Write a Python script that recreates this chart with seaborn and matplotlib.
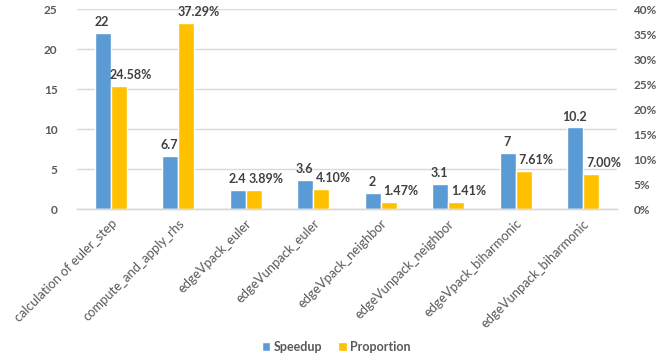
import matplotlib
matplotlib.use("Agg")
import matplotlib.pyplot as plt
import seaborn as sns
import pandas as pd
import numpy as np
from matplotlib.patches import Patch

categories = ["calculation of euler_step", "compute_and_apply_rhs", "edgeVpack_euler",
              "edgeVunpack_euler", "edgeVpack_neighbor", "edgeVunpack_neighbor",
              "edgeVpack_biharmonic", "edgeVunpack_biharmonic"]
speedup = [22, 6.7, 2.4, 3.6, 2, 3.1, 7, 10.2]
speedup_labels = ["22", "6.7", "2.4", "3.6", "2", "3.1", "7", "10.2"]
proportion = [24.58, 37.29, 3.89, 4.10, 1.47, 1.41, 7.61, 7.00]
proportion_labels = ["24.58%", "37.29%", "3.89%", "4.10%", "1.47%", "1.41%", "7.61%", "7.00%"]
left_ticks = [0, 5, 10, 15, 20, 25]
right_ticks = [0, 5, 10, 15, 20, 25, 30, 35, 40]

BLUE = "#5B9BD5"
GOLD = "#FFC000"
TICK_C = "#595959"
LABEL_C = "#404040"
GRID_C = "#D9D9D9"

sns.set_theme(style="white")
plt.rcParams["font.family"] = ["Lato", "DejaVu Sans"]

series = ["Speedup", "Proportion"]
df_left = pd.DataFrame({
    "cat": categories * 2,
    "series": ["Speedup"] * len(categories) + ["Proportion"] * len(categories),
    "value": speedup + [np.nan] * len(categories),
})
df_right = pd.DataFrame({
    "cat": categories * 2,
    "series": ["Speedup"] * len(categories) + ["Proportion"] * len(categories),
    "value": [np.nan] * len(categories) + proportion,
})

fig, ax = plt.subplots(figsize=(6.66, 3.6), dpi=100)
fig.subplots_adjust(left=0.1156, right=0.926, top=0.975, bottom=0.419)
ax2 = ax.twinx()

palette = {"Speedup": BLUE, "Proportion": GOLD}
sns.barplot(data=df_left, x="cat", y="value", hue="series", hue_order=series,
            order=categories, palette=palette, width=0.474, ax=ax, legend=False,
            saturation=1, errorbar=None)
sns.barplot(data=df_right, x="cat", y="value", hue="series", hue_order=series,
            order=categories, palette=palette, width=0.474, ax=ax2, legend=False,
            saturation=1, errorbar=None)

ax.set_ylim(0, 25)
ax2.set_ylim(0, 40)
ax.set_xlim(-0.5, len(categories) - 0.5)
ax.set_yticks(left_ticks)
ax.set_yticklabels([str(t) for t in left_ticks])
ax2.set_yticks(right_ticks)
ax2.set_yticklabels([f"{t}%" for t in right_ticks])

ax.grid(axis="y", color=GRID_C, linewidth=1)
ax.set_axisbelow(True)
for a in (ax, ax2):
    for s in ["top", "left", "right"]:
        a.spines[s].set_visible(False)
    a.spines["bottom"].set_color(GRID_C)
    a.spines["bottom"].set_linewidth(1)
    a.set_xlabel("")
    a.set_ylabel("")
    a.tick_params(axis="both", length=0)

ax.tick_params(axis="y", labelsize=8.5, labelcolor=TICK_C, pad=14)
ax2.tick_params(axis="y", labelsize=8.5, labelcolor=TICK_C, pad=12)
for lab in ax.get_yticklabels() + ax2.get_yticklabels():
    lab.set_fontweight("bold")

ax.set_xticks(range(len(categories)))
ax.set_xticklabels(categories, rotation=45, ha="right", rotation_mode="anchor",
                   fontsize=9.4, color=TICK_C)
ax.tick_params(axis="x", pad=6)
ax2.tick_params(axis="x", labelbottom=False)

# data labels
blue_bars = [p for p in ax.patches if p.get_height() > 0 and not np.isnan(p.get_height())]
gold_bars = [p for p in ax2.patches if p.get_height() > 0 and not np.isnan(p.get_height())]
for p, lab in zip(blue_bars, speedup_labels):
    ax.annotate(lab, (p.get_x() + p.get_width() / 2, p.get_height()),
                xytext=(-0.5, 3.5), textcoords="offset points", ha="center", va="bottom",
                fontsize=9, fontweight="bold", color=LABEL_C)
for p, lab in zip(gold_bars, proportion_labels):
    ax2.annotate(lab, (p.get_x() + p.get_width() / 2, p.get_height()),
                 xytext=(9, 3.5), textcoords="offset points", ha="center", va="bottom",
                 fontsize=9, fontweight="bold", color=LABEL_C)

handles = [Patch(facecolor=BLUE, label="Speedup"), Patch(facecolor=GOLD, label="Proportion")]
leg = fig.legend(handles=handles, loc="center", bbox_to_anchor=(0.505, 0.036), ncol=2,
                 frameon=False, fontsize=9, handlelength=0.7, handleheight=0.7,
                 handletextpad=0.3, columnspacing=1.2)
for t in leg.get_texts():
    t.set_color(TICK_C)
    t.set_fontweight("bold")

fig.savefig("out.png", dpi=100)
